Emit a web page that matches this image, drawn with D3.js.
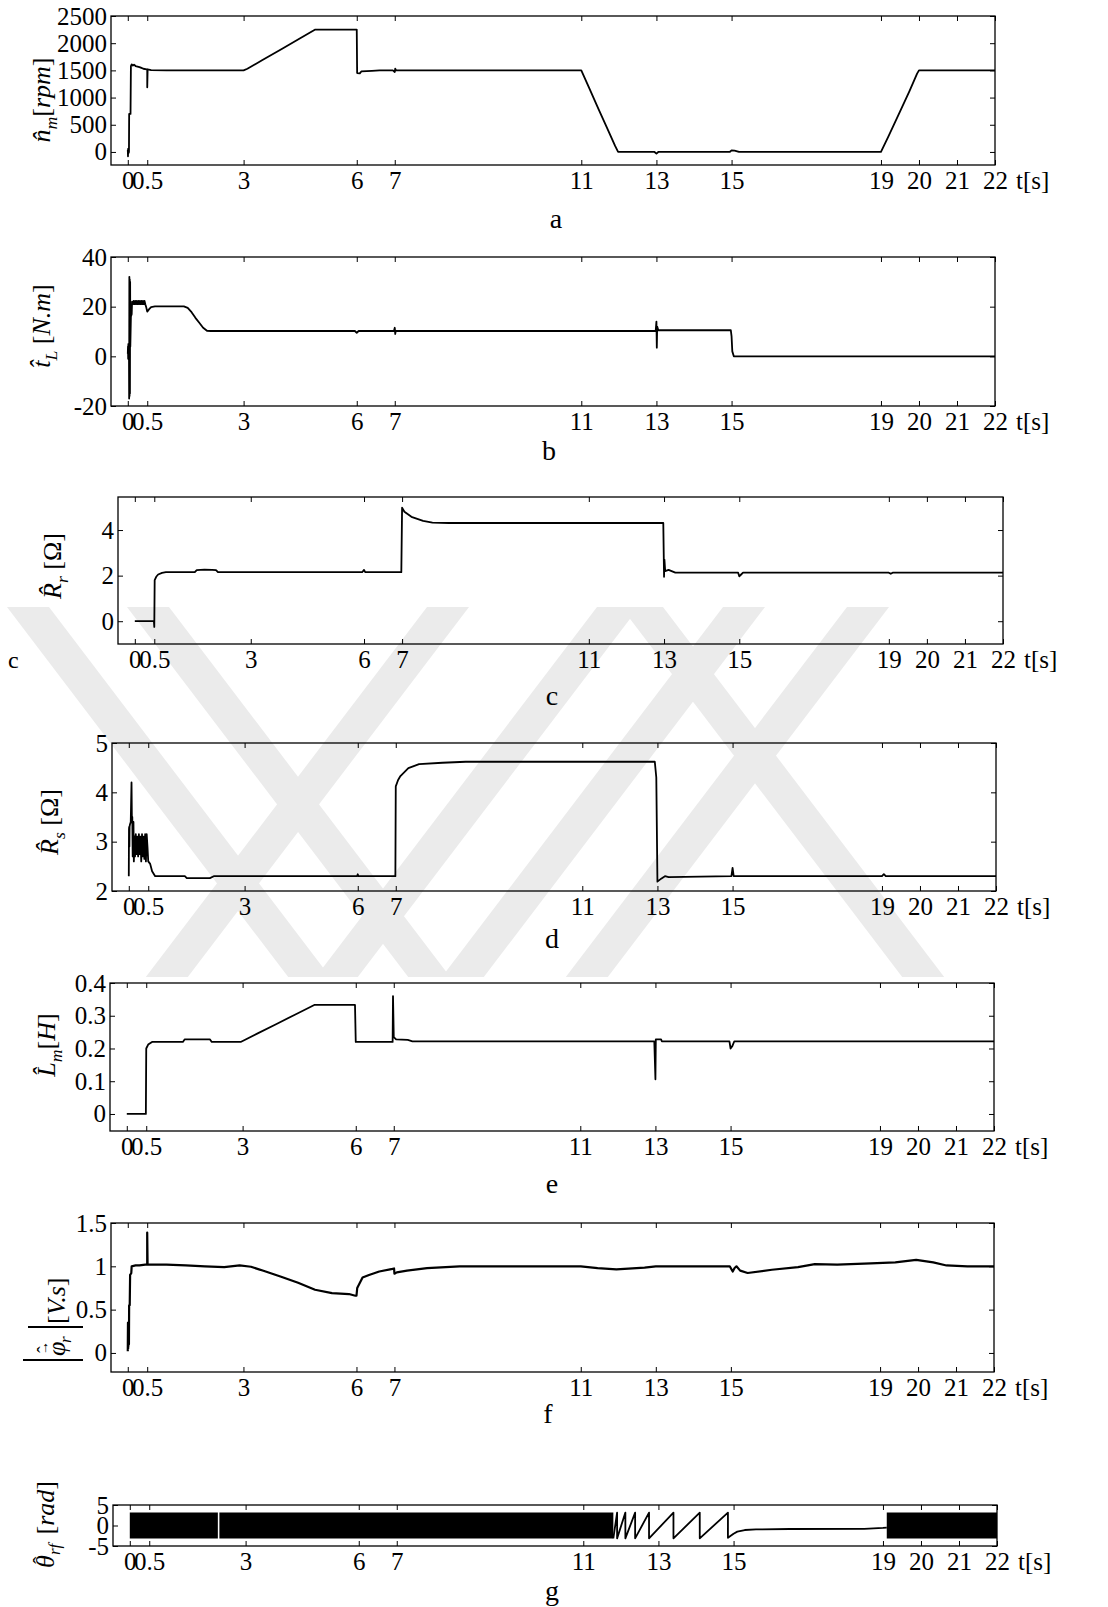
<!DOCTYPE html>
<html>
<head>
<meta charset="utf-8">
<script src="https://cdn.jsdelivr.net/npm/d3@7"></script>
<style>
  body { margin: 0; background: #fff; }
  svg { display: block; }
  text { font-family: "Liberation Serif", "Times New Roman", serif; fill: #000; }
</style>
</head>
<body>
<svg id="chart" width="1108" height="1607"></svg>
<script>
// time ticks of the (non uniform) x axis and where they sit across the frame
var tickTimes = [0, 0.5, 3, 6, 7, 11, 13, 15, 19, 20, 21, 22];
var tickFrac  = [0.019, 0.041, 0.150, 0.278, 0.321, 0.532, 0.617, 0.702, 0.871, 0.914, 0.957, 1.0];

// a : estimated speed [rpm]
var speedData = [
  [0,40],[0.005,-80],[0.01,60],[0.02,-20],[0.03,0],[0.035,700],[0.07,700],[0.08,1580],
  [0.1,1610],[0.13,1590],[0.16,1605],[0.2,1580],[0.25,1570],[0.3,1560],[0.35,1545],
  [0.4,1530],[0.49,1520],[0.5,1520],[0.5,1190],[0.51,1520],[0.6,1505],[1,1500],[3,1500],
  [3.1,1530],[3.5,1690],[4,1890],[4.5,2090],[4.9,2250],[6,2250],[6.01,1450],[6.08,1445],
  [6.12,1480],[6.4,1490],[6.6,1500],[6.95,1500],[7,1470],[7.01,1530],[7.03,1500],[11,1500],
  [11.2,1190],[11.45,800],[11.7,420],[11.9,110],[11.98,0],[12.95,0],[13,-30],[13.05,0],
  [14.95,0],[15,30],[15.08,25],[15.2,0],[19,0],[19.2,290],[19.5,740],[19.75,1120],
  [19.95,1440],[20,1500],[22,1500]
];

// b : estimated load torque [N.m]
var torqueData = [
  [0,1],[0.005,4],[0.01,-1],[0.015,5],[0.02,2],[0.03,3],
  [0.035,-17],[0.04,32],[0.045,-16],[0.05,31],[0.055,-15],[0.06,30],[0.065,4],
  [0.08,16],[0.1,17],[0.11,22],[0.13,21],[0.15,22.3],[0.17,21],[0.19,22.3],[0.21,21],
  [0.23,22.3],[0.25,21],[0.27,22.3],[0.29,21],[0.31,22.3],[0.33,21],[0.35,22.3],[0.37,21],
  [0.39,22.3],[0.41,21],[0.43,22.3],[0.45,21],[0.47,20],[0.5,18],[0.55,19],[0.6,19.8],
  [0.7,20.1],[1.45,20.1],[1.55,19.5],[1.65,17.8],[1.75,15.5],[1.85,13.5],[1.95,11.5],
  [2.05,10.3],[2.15,10.2],[5.95,10.2],[6,9.5],[6.05,10.2],[6.98,10.2],[7,11.5],[7.01,9],
  [7.02,10.2],[12.98,10.2],[13,14],[13.01,3.5],[13.02,12],[13.05,10.5],[14.98,10.5],
  [15,8],[15.02,2],[15.06,0],[22,0]
];

// c : estimated rotor resistance [ohm]
var rrData = [
  [0,0],[0.49,0],[0.5,-0.25],[0.51,1.8],[0.55,1.95],[0.6,2.05],[0.7,2.12],[0.8,2.15],
  [1.55,2.15],[1.6,2.24],[1.8,2.26],[2.0,2.25],[2.1,2.24],[2.15,2.15],[5.95,2.15],
  [6,2.25],[6.03,2.15],[6.98,2.15],[7,4.98],[7.05,4.8],[7.2,4.58],[7.45,4.4],[7.65,4.33],
  [8,4.31],[12.98,4.31],[13,1.95],[13.01,2.7],[13.03,2.2],[13.12,2.25],[13.3,2.13],
  [14.97,2.13],[15,1.97],[15.05,2.05],[15.1,2.13],[19,2.13],[19.05,2.08],[19.1,2.13],[22,2.13]
];

// d : estimated stator resistance [ohm]
var rsData = [
  [0,2.3],[0.005,3.25],[0.01,3.3],[0.015,2.9],[0.02,3.3],[0.03,3.35],[0.05,3.4],
  [0.07,4.2],[0.08,3.4],[0.09,3.5],[0.1,2.7],[0.12,3.4],[0.13,2.6],[0.15,3.1],[0.16,2.7],
  [0.18,3.15],[0.2,2.75],[0.22,3.1],[0.24,2.7],[0.26,3.15],[0.28,2.75],[0.3,3.1],[0.32,2.6],
  [0.34,3.15],[0.36,2.7],[0.38,3.1],[0.4,2.65],[0.42,3.15],[0.44,2.6],[0.46,3.15],[0.48,2.9],
  [0.5,2.6],[0.55,2.55],[0.6,2.4],[0.68,2.3],[1.45,2.3],[1.5,2.26],[2.1,2.26],[2.2,2.3],
  [5.98,2.3],[6,2.34],[6.02,2.3],[6.99,2.3],[7,4.12],[7.05,4.25],[7.1,4.33],[7.27,4.49],
  [7.5,4.57],[8,4.6],[8.5,4.62],[12.93,4.62],[12.97,4.3],[13,2.19],[13.05,2.22],[13.1,2.25],
  [13.2,2.3],[13.3,2.28],[14.97,2.3],[15,2.47],[15.03,2.3],[19,2.3],[19.05,2.34],[19.1,2.3],[22,2.3]
];

// e : estimated magnetising inductance [H]
var lmData = [
  [0,0],[0.49,0],[0.5,0.2],[0.55,0.212],[0.65,0.22],[1.45,0.22],[1.5,0.228],[2.15,0.228],
  [2.2,0.22],[2.95,0.22],[3.4,0.246],[3.9,0.275],[4.4,0.304],[4.9,0.333],
  [5.98,0.333],[6,0.22],[6.97,0.22],[6.98,0.36],[7.0,0.235],[7.05,0.228],[7.3,0.226],
  [7.4,0.222],[12.97,0.222],[13,0.106],[13.01,0.228],[13.15,0.228],[13.17,0.222],
  [14.97,0.222],[15,0.2],[15.05,0.208],[15.1,0.222],[22,0.222]
];

// f : estimated rotor flux magnitude [V.s]
var fluxData = [
  [0,0.02],[0.005,0.35],[0.01,0.05],[0.015,0.3],[0.02,0.08],[0.025,0.25],[0.03,0.1],
  [0.035,0.55],[0.05,0.55],[0.06,0.9],[0.09,0.92],[0.1,1.0],[0.2,1.01],[0.3,1.01],
  [0.45,1.02],[0.5,1.02],[0.5,1.39],[0.51,1.02],[1,1.02],[1.5,1.01],[2,1.0],[2.5,0.99],
  [2.9,1.01],[3.2,0.995],[3.55,0.945],[4.0,0.88],[4.45,0.81],[4.9,0.73],[5.35,0.69],
  [5.8,0.68],[5.97,0.66],[6,0.66],[6.02,0.75],[6.16,0.87],[6.33,0.9],[6.6,0.94],
  [6.95,0.97],[6.99,0.975],[7.0,0.915],[7.05,0.93],[7.27,0.95],[7.7,0.98],[8.4,1.0],
  [11,1.0],[11.45,0.98],[11.95,0.965],[12.7,0.985],[13,1.0],[14.97,1.0],[15.05,0.94],
  [15.1,0.98],[15.15,1.0],[15.25,0.95],[15.45,0.923],[16.1,0.96],[16.8,0.99],[17.25,1.025],
  [17.85,1.02],[18.75,1.035],[19.4,1.045],[19.95,1.075],[20.4,1.045],[20.75,1.01],
  [21.3,1.0],[22,1.0]
];

// g : estimated flux angle [rad], dense wrap bands and the slow part
var thetaBands = [[0, 2.28], [2.32, 11.8], [19.1, 22]];
var thetaData = [
  [11.8,-3.14],[11.9,3.14],[11.9,-3.14],[12.12,3.14],[12.12,-3.14],[12.38,3.14],
  [12.38,-3.14],[12.75,3.14],[12.75,-3.14],[13.4,3.14],[13.4,-3.14],[14.1,3.14],
  [14.1,-3.14],[14.85,3.14],[14.85,-3.0],[15.0,-2.0],[15.1,-1.5],[15.3,-1.1],
  [15.6,-0.95],[16.5,-0.85],[18.5,-0.8],[19.0,-0.6],[19.1,-0.5]
];

// faint watermark behind the middle panels: left edges of its diagonal strips at the top
var markDown = [7, 127, 621];          // strips running down to the right
var markUp = [427, 597, 723, 847];     // strips running down to the left

var panels = [
  { data: speedData, L: 111, R: 995, T: 16, B: 165, dom: [-240, 2500], ticks: [0,500,1000,1500,2000,2500],
    letter: "a", lx: 556, ly: 228, labX: 50, labY: 100,
    label: [{t:"n\u0302", i:1}, {t:"m", i:1, sub:1}, {t:"["}, {t:"rpm", i:1}, {t:"]"}] },
  { data: torqueData, L: 111, R: 995, T: 257, B: 406, dom: [-20, 40], ticks: [-20,0,20,40],
    letter: "b", lx: 549, ly: 460, labX: 50, labY: 326,
    label: [{t:"t\u0302", i:1}, {t:"L", i:1, sub:1}, {t:" ["}, {t:"N.m", i:1}, {t:"]"}] },
  { data: rrData, L: 118, R: 1003, T: 497, B: 644, dom: [-1.0, 5.45], ticks: [0,2,4],
    letter: "c", lx: 552, ly: 705, labX: 61, labY: 566,
    label: [{t:"R\u0302", i:1}, {t:"r", i:1, sub:1}, {t:" [\u03A9]"}] },
  { data: rsData, L: 112, R: 996, T: 743, B: 891, dom: [2, 5], ticks: [2,3,4,5],
    letter: "d", lx: 552, ly: 948, labX: 58, labY: 822,
    label: [{t:"R\u0302", i:1}, {t:"s", i:1, sub:1}, {t:" [\u03A9]"}] },
  { data: lmData, L: 110, R: 994, T: 983, B: 1131, dom: [-0.052, 0.4], ticks: [0,0.1,0.2,0.3,0.4],
    letter: "e", lx: 552, ly: 1193, labX: 55, labY: 1045,
    label: [{t:"L\u0302", i:1}, {t:"m", i:1, sub:1}, {t:"["}, {t:"H", i:1}, {t:"]"}] },
  { data: fluxData, L: 111, R: 994, T: 1223, B: 1372, dom: [-0.22, 1.5], ticks: [0,0.5,1,1.5],
    letter: "f", lx: 548, ly: 1423, wide: true, special: "flux" },
  { data: thetaData, L: 113, R: 997, T: 1505, B: 1546, dom: [-5, 5], ticks: [-5,0,5],
    letter: "g", lx: 552, ly: 1600, bands: thetaBands, special: "theta" }
];

var svg = d3.select("#chart");
var FS = 25;

// watermark strips, clipped to their band of the page
svg.append("clipPath").attr("id", "markClip")
  .append("rect").attr("x", 0).attr("y", 607).attr("width", 1010).attr("height", 370);
var mark = svg.append("g").attr("clip-path", "url(#markClip)").attr("fill", "#ebebeb");
var markH = 370, markW = 42, markRun = 0.76 * markH;
markDown.forEach(function (x0) {
  mark.append("polygon").attr("points", [
    [x0, 607], [x0 + markW, 607], [x0 + markW + markRun, 977], [x0 + markRun, 977]
  ].join(" "));
});
markUp.forEach(function (x0) {
  mark.append("polygon").attr("points", [
    [x0, 607], [x0 + markW, 607], [x0 + markW - markRun, 977], [x0 - markRun, 977]
  ].join(" "));
});

function yLabel(g, parts, x, y, size) {
  var t = g.append("text")
    .attr("transform", "translate(" + x + "," + y + ") rotate(-90)")
    .attr("text-anchor", "middle")
    .attr("font-size", size);
  var shifted = false;
  parts.forEach(function (p) {
    var s = t.append("tspan").text(p.t);
    if (p.i) s.attr("font-style", "italic");
    if (p.sub) { s.attr("font-size", size * 0.68).attr("dy", size * 0.28); shifted = true; }
    else if (shifted) { s.attr("dy", -size * 0.28); shifted = false; }
  });
}

function styleAxis(g) {
  g.attr("font-family", null).attr("font-size", FS);
  g.select(".domain").remove();
  g.selectAll(".tick line").attr("stroke", "#000").attr("stroke-width", 1);
  g.selectAll(".tick text").attr("fill", "#000");
}

panels.forEach(function (p) {
  var W = p.R - p.L;
  var x = d3.scaleLinear()
    .domain(tickTimes)
    .range(tickFrac.map(function (f) { return p.L + f * W; }));
  var y = d3.scaleLinear().domain(p.dom).range([p.B, p.T]);
  var g = svg.append("g");

  var fmt = function (d) { return String(d); };

  g.append("g").attr("transform", "translate(0," + p.B + ")")
    .call(d3.axisBottom(x).tickValues(tickTimes).tickFormat(fmt).tickSize(-5).tickSizeOuter(0).tickPadding(6))
    .call(styleAxis);
  g.append("g").attr("transform", "translate(0," + p.T + ")")
    .call(d3.axisTop(x).tickValues(tickTimes).tickFormat("").tickSize(-5).tickSizeOuter(0))
    .call(styleAxis);
  g.append("g").attr("transform", "translate(" + p.L + ",0)")
    .call(d3.axisLeft(y).tickValues(p.ticks).tickFormat(fmt).tickSize(-5).tickSizeOuter(0).tickPadding(4))
    .call(styleAxis);
  g.append("g").attr("transform", "translate(" + p.R + ",0)")
    .call(d3.axisRight(y).tickValues(p.ticks).tickFormat("").tickSize(-5).tickSizeOuter(0))
    .call(styleAxis);

  g.append("rect")
    .attr("x", p.L).attr("y", p.T).attr("width", W).attr("height", p.B - p.T)
    .attr("fill", "none").attr("stroke", "#000").attr("stroke-width", 1.3);

  if (p.bands) {
    var area = d3.area()
      .x(function (d) { return x(d); })
      .y0(y(-Math.PI)).y1(y(Math.PI));
    p.bands.forEach(function (b) {
      g.append("path").attr("d", area(b)).attr("fill", "#000");
    });
  }

  var line = d3.line()
    .x(function (d) { return x(d[0]); })
    .y(function (d) { return y(d[1]); });
  g.append("path").datum(p.data)
    .attr("d", line)
    .attr("fill", "none")
    .attr("stroke", "#000")
    .attr("stroke-width", p.wide ? 2.2 : 1.8)
    .attr("stroke-linejoin", "round");

  g.append("text").attr("x", p.R + 21).attr("y", p.B + 24)
    .attr("font-size", FS).text("t[s]");

  g.append("text").attr("x", p.lx).attr("y", p.ly)
    .attr("text-anchor", "middle").attr("font-size", 28).text(p.letter);

  if (p.label) {
    yLabel(g, p.label, p.labX, p.labY, 26);
  } else if (p.special === "flux") {
    // |phi_r| label with long absolute value bars
    g.append("line").attr("x1", 23).attr("x2", 83).attr("y1", 1360).attr("y2", 1360)
      .attr("stroke", "#000").attr("stroke-width", 2.2);
    g.append("line").attr("x1", 28).attr("x2", 83).attr("y1", 1327).attr("y2", 1327)
      .attr("stroke", "#000").attr("stroke-width", 2.2);
    var t = g.append("text")
      .attr("transform", "translate(65,1356) rotate(-90)")
      .attr("font-size", 26);
    t.append("tspan").attr("x", 0).attr("y", 0).attr("font-style", "italic").text("\u03C6");
    t.append("tspan").attr("x", 1).attr("y", -17).attr("font-size", 14).text("\u2192");
    t.append("tspan").attr("x", 3).attr("y", -13).attr("font-size", 20).text("\u02C6");
    t.append("tspan").attr("x", 13).attr("y", 6).attr("font-style", "italic").attr("font-size", 17).text("r");
    t.append("tspan").attr("x", 32).attr("y", 0).text("[");
    t.append("tspan").attr("font-style", "italic").text("V.s");
    t.append("tspan").text("]");
  } else if (p.special === "theta") {
    var t2 = g.append("text")
      .attr("transform", "translate(54,1568) rotate(-90)")
      .attr("font-size", 26);
    t2.append("tspan").attr("x", 0).attr("y", 0).attr("font-style", "italic").text("\u03B8");
    t2.append("tspan").attr("x", 4).attr("y", -6).attr("font-size", 22).text("\u02C6");
    t2.append("tspan").attr("x", 13).attr("y", 6).attr("font-style", "italic").attr("font-size", 17).text("rf");
    t2.append("tspan").attr("x", 27).attr("y", 0).text(" [");
    t2.append("tspan").attr("font-style", "italic").text("rad");
    t2.append("tspan").text("]");
  }
});

// stray caption letter at the left of panel c
svg.append("text").attr("x", 8).attr("y", 668).attr("font-size", 24).text("c");
</script>
</body>
</html>
